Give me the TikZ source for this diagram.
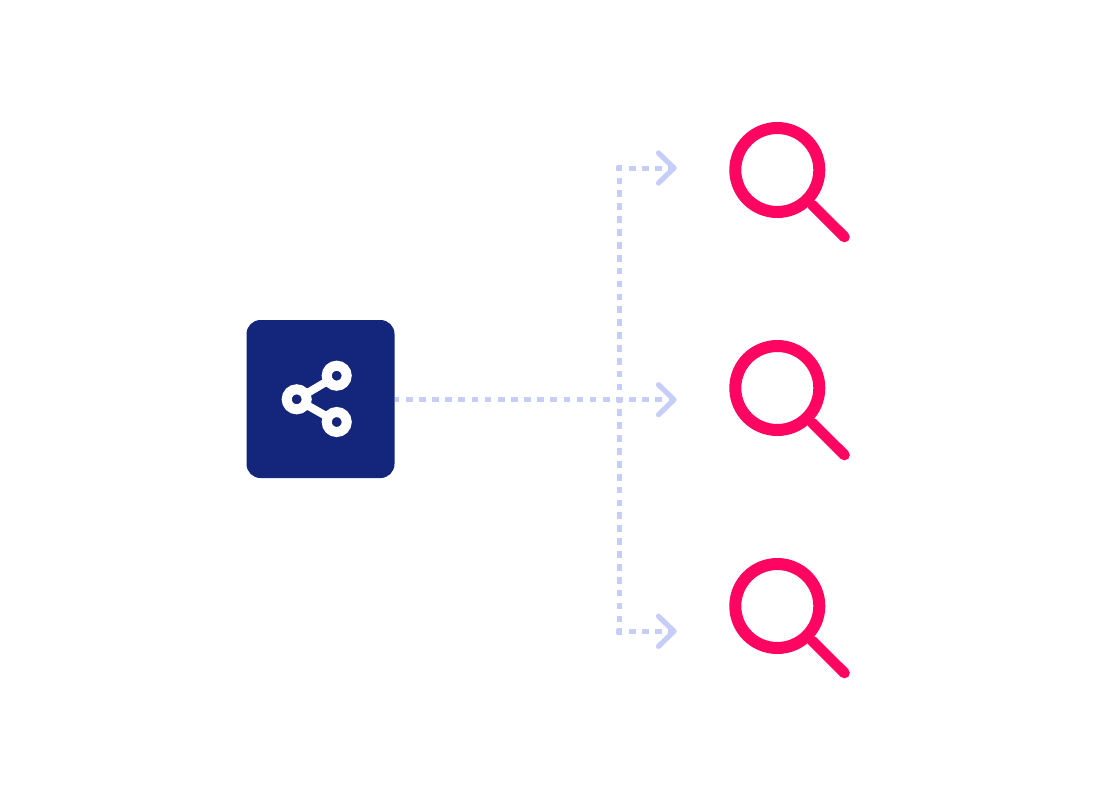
\documentclass[tikz,border=0pt]{standalone}
\usetikzlibrary{calc}
\definecolor{navy}{HTML}{14267B}
\definecolor{dashblue}{HTML}{C6CDF7}
\definecolor{pink}{HTML}{FF0562}
\tikzset{
  x=0.75pt,y=-0.75pt,
  sharebox/.style={fill=navy,rounded corners=10.5pt,minimum width=111pt,minimum height=118.5pt,inner sep=0pt,draw=none},
  sharering/.style={draw=white,line width=7.5pt,circle,minimum size=15pt,inner sep=0pt,fill=navy},
  shareline/.style={draw=white,line width=6pt},
  flowline/.style={draw=dashblue,line width=3.75pt},
  flowh/.style={flowline,dash pattern=on 5.03pt off 4.82pt},
  flowv/.style={flowline,dash pattern=on 5.03pt off 4.63pt},
  chevron/.style={draw=dashblue,line width=3.9pt,line cap=round,line join=round},
  lensring/.style={draw=pink,line width=9pt,circle,minimum size=63pt,inner sep=0pt},
  lenshandle/.style={draw=pink,line width=8pt,line cap=round},
}
\begin{document}
\begin{tikzpicture}
\useasboundingbox (0,0) rectangle (1120,800);
\fill[white] (0,0) rectangle (1120,800);
\node[sharebox] (box) at (320.5,399) {};
\coordinate (sl) at (296.7,399.3);
\coordinate (st) at (336.7,375.7);
\coordinate (sb) at (336.7,422);
\draw[shareline] (sl) -- (st);
\draw[shareline] (sl) -- (sb);
\node[sharering] (ringl) at (sl) {};
\node[sharering] (ringt) at (st) {};
\node[sharering] (ringb) at (sb) {};
\coordinate (jt) at (615.7,168);
\coordinate (jm) at (619,399.7);
\coordinate (jb) at (615.7,631.3);
\coordinate (vt) at (619,164.7);
\coordinate (vb) at (619,634.6);
\coordinate (tipt) at (674,168);
\coordinate (tipm) at (674,399.7);
\coordinate (tipb) at (674,631.3);
\draw[flowh,dash phase=1.5pt] (box.east |- jm) -- (tipm);
\draw[flowv] (vt) -- (vb);
\draw[flowh] (jt) -- (tipt);
\draw[flowh] (jb) -- (tipb);
\foreach \t in {tipt,tipm,tipb}{
  \draw[chevron] ($(\t)+(-15.5,-15)$) -- (\t) -- ($(\t)+(-15.5,15)$);
}
\foreach \n/\y in {a/170,b/388,c/606}{
  \node[lensring] (lens\n) at (777.3,\y) {};
  \coordinate (end\n) at (844.5,\y+67);
  \draw[lenshandle] (lens\n) ++(35,35) -- (end\n);
}
\end{tikzpicture}
\end{document}
